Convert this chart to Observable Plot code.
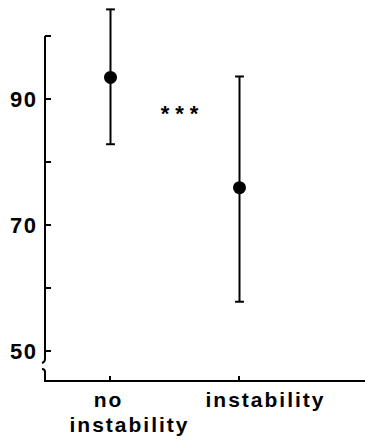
<!DOCTYPE html>
<html><head><meta charset="utf-8">
<script src="https://cdn.jsdelivr.net/npm/d3@7"></script>
<script src="https://cdn.jsdelivr.net/npm/@observablehq/plot@0.6"></script>
<style>
body{margin:0;background:#fff}
#chart svg{display:block}
#chart g[aria-label="y-axis tick label"] text{letter-spacing:1.5px}
</style></head><body><div id="chart"></div>
<script>
const categories = ["no instability", "instability"];
const tickLabelLine1 = ["no", "instability"];
const tickLabelLine2 = ["instability", ""];
const means = [93.5, 76.0];
const upper = [104.3, 93.65];
const lower = [82.9, 57.9];
const yMajorTicks = [90, 70, 50];
const yAllTicks = [100, 90, 80, 70, 60, 50];
const significanceLabel = "***";
const significanceY = 88.7;
const yDomain = [45.24, 105.71];

const data = categories.map((c, i) => ({category: c, mean: means[i], upper: upper[i], lower: lower[i],
  line1: tickLabelLine1[i], line2: tickLabelLine2[i]}));
const cap = {draw(ctx, size) { const w = Math.sqrt(size); ctx.moveTo(-w / 2, 0); ctx.lineTo(w / 2, 0); }};

function axesMark(index, scales, values, dims) {
  const {x, y} = scales;
  const left = dims.marginLeft, right = dims.width - dims.marginRight, bottom = dims.height - dims.marginBottom;
  const g = d3.create("svg:g").attr("fill", "none").attr("stroke", "black").attr("stroke-width", 2);
  const y50 = y(50);
  const bTop = y50 + 8, bBot = y50 + 18;
  g.append("path").attr("d", `M${left},${y(100)}V${bTop}q0,3 -3,4`);
  g.append("path").attr("d", `M${left - 3},${bBot}q3,0 3,3V${bottom}H${right}`);
  for (const t of yAllTicks) g.append("line").attr("x1", left).attr("x2", left + 6).attr("y1", y(t)).attr("y2", y(t));
  for (const c of categories) g.append("line").attr("x1", x(c)).attr("x2", x(c)).attr("y1", bottom).attr("y2", bottom - 5);
  return g.node();
}

function sigMark(index, scales) {
  const {x, y} = scales;
  const mid = (x(categories[0]) + x(categories[1])) / 2;
  return d3.create("svg:text")
    .attr("x", mid + 8).attr("y", y(significanceY)).attr("dy", "0.62em")
    .attr("text-anchor", "middle").attr("font-size", 22).attr("font-weight", "bold")
    .attr("letter-spacing", "6px").attr("fill", "black")
    .text(significanceLabel).node();
}

const labelStyle = {frameAnchor: "bottom", lineAnchor: "top", fontSize: 21, fontWeight: "bold",
  fill: "black", textAnchor: "middle"};

const chart = Plot.plot({
  width: 365, height: 442,
  marginLeft: 45, marginRight: 0, marginTop: 0, marginBottom: 61,
  x: {type: "point", domain: categories, range: [110, 239], padding: 0, axis: null},
  y: {domain: yDomain},
  style: {fontFamily: "'Liberation Sans', Arial, sans-serif", color: "black", background: "white"},
  marks: [
    Plot.axisY(yMajorTicks, {anchor: "left", tickSize: 0, tickPadding: 8, fontSize: 22, fontWeight: "bold", label: null}),
    axesMark,
    Plot.ruleX(data, {x: "category", y1: "lower", y2: "upper", strokeWidth: 2, stroke: "black"}),
    Plot.dot(data, {x: "category", y: "upper", symbol: cap, r: 5, stroke: "black", fill: "none", strokeWidth: 2}),
    Plot.dot(data, {x: "category", y: "lower", symbol: cap, r: 5, stroke: "black", fill: "none", strokeWidth: 2}),
    Plot.dot(data, {x: "category", y: "mean", r: 6.5, fill: "black", stroke: "none"}),
    Plot.text(data.slice(0, 1), {...labelStyle, x: "category", text: "line1", dy: 11, dx: -2,
      style: "letter-spacing:2px"}),
    Plot.text(data.slice(0, 1), {...labelStyle, x: "category", text: "line2", dy: 36, dx: 19}),
    Plot.text(data.slice(1), {...labelStyle, x: "category", text: "line1", dy: 11, dx: 26}),
    sigMark
  ]
});
document.querySelectorAll; 
document.getElementById("chart").append(chart);
chart.querySelectorAll('g[aria-label="text"] text').forEach(t => t.style.letterSpacing = "2px");
</script></body></html>
